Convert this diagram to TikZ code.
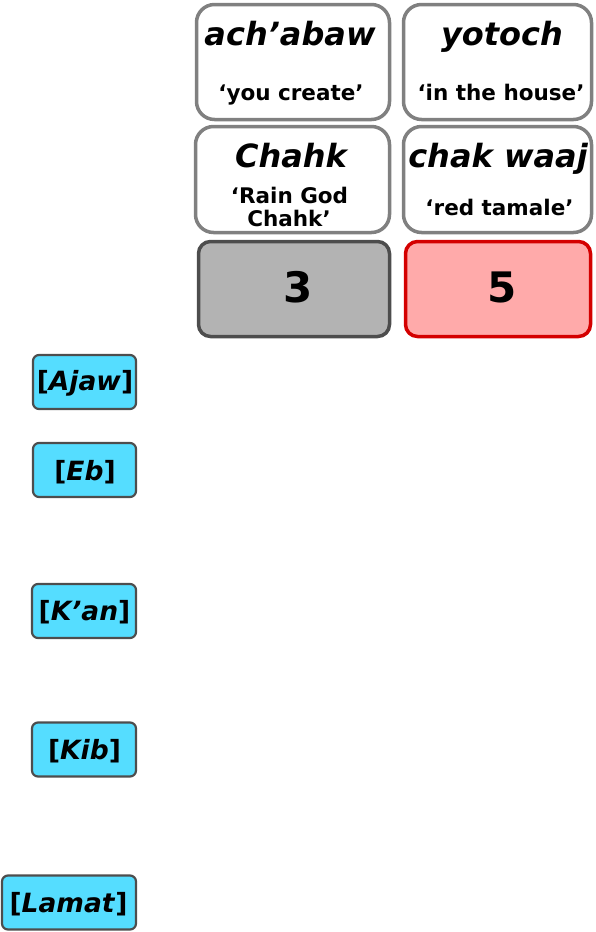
\documentclass[tikz,border=0pt]{standalone}
\usepackage{fontspec}
\setmainfont{DejaVu Sans}
\begin{document}
\begin{tikzpicture}[x=1pt,y=-1pt,
  wordbox/.style={draw=gray50,line width=3.5pt,rounded corners=18pt,fill=white,minimum width=#1,minimum height=115pt,inner sep=0pt},
  glossbox/.style={draw=gray50,line width=3.5pt,rounded corners=18pt,fill=white,minimum width=#1,minimum height=106pt,inner sep=0pt},
  numbox/.style={line width=3.5pt,rounded corners=12pt,minimum height=95pt,inner sep=0pt},
  daybox/.style={draw=gray30,line width=2.2pt,rounded corners=6pt,fill=cyanday,minimum height=54pt,inner sep=0pt},
  mainword/.style={font=\fontsize{32}{38}\selectfont\bfseries\itshape,anchor=base,inner sep=0pt},
  gloss/.style={font=\fontsize{21.5}{24}\selectfont\bfseries,anchor=base,inner sep=0pt,align=center},
  numtxt/.style={font=\fontsize{42}{48}\selectfont\bfseries,anchor=base,inner sep=0pt},
  daytxt/.style={font=\fontsize{26.5}{30}\selectfont\bfseries,anchor=base,inner sep=0pt}
]
\definecolor{gray50}{HTML}{808080}
\definecolor{gray30}{HTML}{4D4D4D}
\definecolor{cyanday}{HTML}{55DDFF}
\definecolor{grayfill}{HTML}{B3B3B3}
\definecolor{pinkfill}{HTML}{FFAAAA}
\definecolor{redline}{HTML}{D40000}
\useasboundingbox (0,0) rectangle (595,932);

% top row
\node[wordbox=193pt] (b1) at (293,62) {};
\node[wordbox=188pt] (b2) at (497.5,62) {};
\node[mainword] (t1) at (290,45) {ach’abaw};
\node[gloss] (g1) at (291,100) {‘you create’};
\node[mainword] (t2) at (502,45) {yotoch};
\node[gloss] (g2) at (501,100) {‘in the house’};

% second row
\node[glossbox=194pt] (b3) at (292.5,179.5) {};
\node[glossbox=188pt] (b4) at (497.5,179.5) {};
\node[mainword] (t3) at (291,167) {Chahk};
\node[gloss] (g3a) at (289.5,203) {‘Rain God};
\node[gloss] (g3b) at (289,226) {Chahk’};
\node[mainword] (t4) at (498,167) {chak waaj};
\node[gloss] (g4) at (499.5,215) {‘red tamale’};

% numbers
\node[numbox,draw=gray30,fill=grayfill,minimum width=191pt] (n3) at (294,289) {};
\node[numbox,draw=redline,fill=pinkfill,minimum width=185pt] (n5) at (498,289) {};
\node[numtxt] (n3t) at (298,302) {3};
\node[numtxt] (n5t) at (502,302) {5};

% day signs
\node[daybox,minimum width=103pt] (d1) at (84.5,382) {};
\node[daytxt] (d1t) at (85,390) {[\textit{Ajaw}]};
\node[daybox,minimum width=103pt] (d2) at (84.5,470) {};
\node[daytxt] (d2t) at (85,480) {[\textit{Eb}]};
\node[daybox,minimum width=104pt] (d3) at (84,611) {};
\node[daytxt] (d3t) at (84.5,620) {[\textit{K’an}]};
\node[daybox,minimum width=104pt] (d4) at (84,749.5) {};
\node[daytxt] (d4t) at (84.5,759) {[\textit{Kib}]};
\node[daybox,minimum width=134pt] (d5) at (69,902.5) {};
\node[daytxt] (d5t) at (68.5,912) {[\textit{Lamat}]};
\end{tikzpicture}
\end{document}
